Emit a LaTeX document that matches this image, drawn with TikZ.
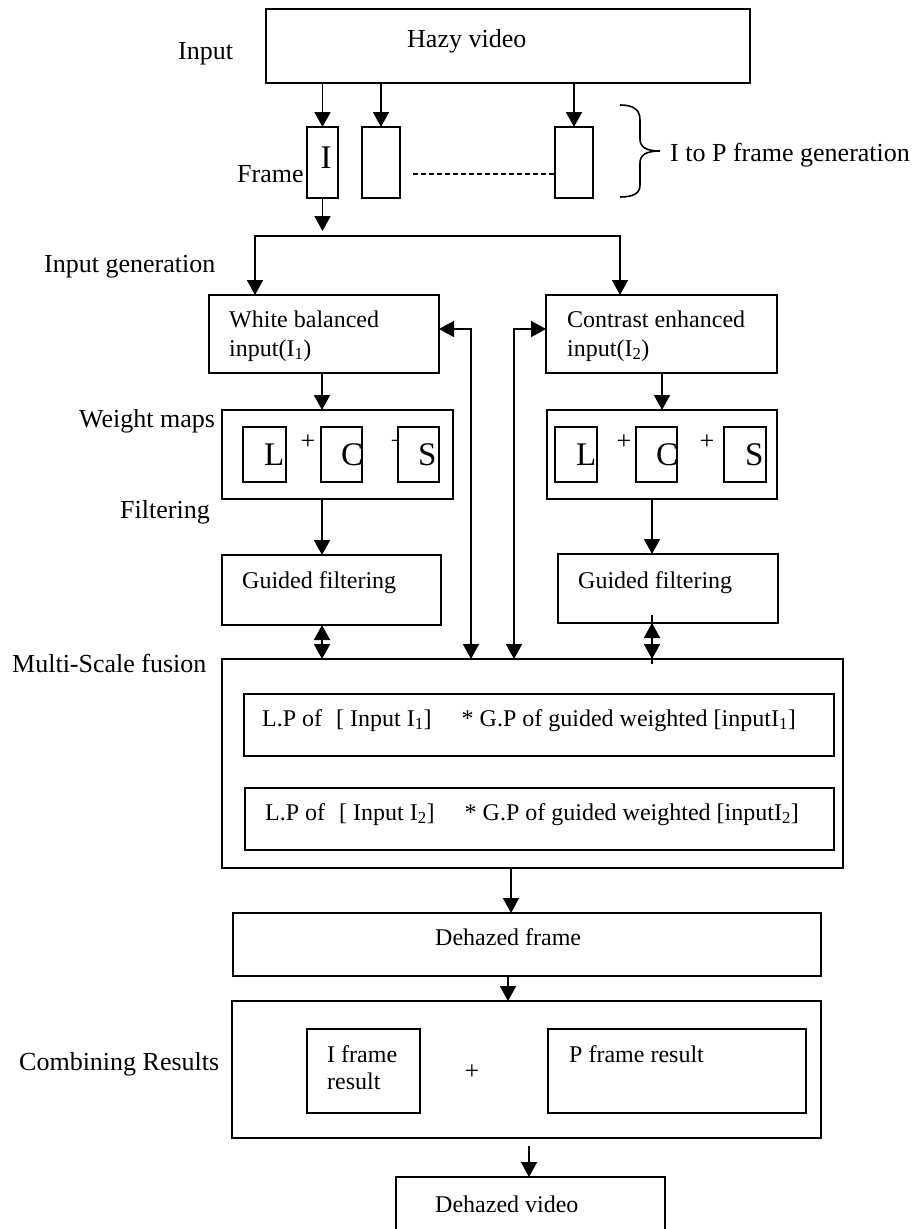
\documentclass[tikz,border=0pt]{standalone}
\usepackage{fontspec}
\setmainfont{Liberation Serif}
\usetikzlibrary{arrows.meta}
\begin{document}
\begin{tikzpicture}[x=1pt,y=-1pt,
  blk/.style={draw, line width=1.9pt, inner sep=0pt, outer sep=0pt, anchor=north west, fill=white},
  lab/.style={font=\fontsize{26}{30}\selectfont, inner sep=0pt, anchor=base west},
  txt/.style={font=\fontsize{24}{29}\selectfont, inner sep=0pt, anchor=base west},
  glyph/.style={font=\fontsize{33}{36}\selectfont, inner sep=0pt, anchor=base west},
  plussign/.style={font=\fontsize{26}{30}\selectfont, inner sep=0pt},
  conn/.style={line width=1.9pt},
  arr/.style={conn, -{Triangle[length=15pt,width=16pt]}},
  dbl/.style={conn, {Triangle[length=15pt,width=16pt]}-{Triangle[length=15pt,width=16pt]}},
]
\useasboundingbox (0,0) rectangle (916,1229);
\clip (0,0) rectangle (916,1229);

% ---------- input video and frames ----------
\node[blk, minimum width=484pt, minimum height=74pt] (hazy) at (266,9) {};
\node[lab] (hazyt) at (407,47) {Hazy video};
\node[lab] (inlab) at (178,59) {Input};

\node[blk, minimum width=31pt, minimum height=71pt] (fI) at (307,127) {};
\node[blk, minimum width=38pt, minimum height=71pt] (fII) at (362,127) {};
\node[blk, minimum width=38pt, minimum height=71pt] (fN) at (555,127) {};
\node[glyph, anchor=base] (fIt) at (326,168) {I};
\node[lab] (framelab) at (237,182) {Frame};

\draw[arr] (fI.north |- hazy.south) -- (fI.north);
\draw[arr] (fII.north |- hazy.south) -- (fII.north);
\draw[arr] (fN.north |- hazy.south) -- (fN.north);

\coordinate (dsh) at (413,174);
\draw[line width=1.3pt, dash pattern=on 5pt off 3pt] (dsh) -- (dsh -| fN.west);

% brace over the frame row
\draw[line width=1.6pt] (620,105) .. controls (634,105) and (640,110) .. (640,120)
  -- (640,139) .. controls (640,147) and (646,151) .. (660,151)
  .. controls (646,151) and (640,155) .. (640,163)
  -- (640,185) .. controls (640,193) and (634,197) .. (620,197);
\node[lab] (ptlab) at (670,161) {I to P frame generation};

% ---------- input generation ----------
\node[lab] (genlab) at (44,272) {Input generation};
\node[blk, minimum width=230pt, minimum height=78pt] (wb) at (209,295) {};
\node[txt] (wbt1) at (229,327) {White balanced};
\node[txt] (wbt2) at (229,356) {input(I\textsubscript{1})};
\node[blk, minimum width=231pt, minimum height=78pt] (ce) at (546,295) {};
\node[txt] (cet1) at (567,327) {Contrast enhanced};
\node[txt] (cet2) at (567,356) {input(I\textsubscript{2})};

\coordinate (jl) at (255,236);
\coordinate (jr) at (620,236);
\draw[arr, shorten >=5pt] (fI.south) -- (fI.south |- jl);
\draw[dbl] (jl |- wb.north) -- (jl) -- (jr) -- (jr |- ce.north);

% ---------- weight maps ----------
\node[lab] (wmlab) at (79,427) {Weight maps};
\node[blk, minimum width=231pt, minimum height=89pt] (wm1) at (222,410) {};
\node[blk, minimum width=230pt, minimum height=89pt] (wm2) at (547,410) {};

\node[plussign] (p1) at (308,442) {+};
\node[plussign] (p2) at (398,442) {+};
\node[plussign] (p3) at (624,442) {+};
\node[plussign] (p4) at (707,442) {+};

\node[blk, minimum width=43pt, minimum height=55pt] (L1) at (243,427) {};
\node[blk, minimum width=41pt, minimum height=55pt] (C1) at (321,427) {};
\node[blk, minimum width=41pt, minimum height=55pt] (S1) at (398,427) {};
\node[blk, minimum width=42pt, minimum height=55pt] (L2) at (555,427) {};
\node[blk, minimum width=41pt, minimum height=55pt] (C2) at (636,427) {};
\node[blk, minimum width=42pt, minimum height=55pt] (S2) at (724,427) {};

\node[glyph] (L1t) at (264,465) {L};
\node[glyph] (C1t) at (341,465) {C};
\node[glyph] (S1t) at (418,465) {S};
\node[glyph] (L2t) at (576,465) {L};
\node[glyph] (C2t) at (656,465) {C};
\node[glyph] (S2t) at (745,465) {S};

% ---------- filtering ----------
\node[lab] (fillab) at (120,518) {Filtering};
\node[blk, minimum width=219pt, minimum height=70pt] (gf1) at (222,555) {};
\node[txt] (gf1t) at (242,588) {Guided filtering};
\node[blk, minimum width=220pt, minimum height=69pt] (gf2) at (558,554) {};
\node[txt] (gf2t) at (578,588) {Guided filtering};

% ---------- multi-scale fusion ----------
\node[lab] (msflab) at (12,672) {Multi-Scale fusion};
\node[blk, minimum width=621pt, minimum height=209pt] (msf) at (222,659) {};
\node[blk, minimum width=590pt, minimum height=62pt] (lp1) at (244,694) {};
\node[txt] (lp1t) at (262,726) {L.P of\hspace{14pt}[ Input I\textsubscript{1}]\hspace{30pt}* G.P of guided weighted [inputI\textsubscript{1}]};
\node[blk, minimum width=589pt, minimum height=62pt] (lp2) at (245,788) {};
\node[txt] (lp2t) at (265,820) {L.P of\hspace{14pt}[ Input I\textsubscript{2}]\hspace{30pt}* G.P of guided weighted [inputI\textsubscript{2}]};

% column positions of the vertical connectors
\coordinate (cl) at (322,0);
\coordinate (cr) at (652,0);
\coordinate (crt) at (662,0);
\coordinate (lx) at (471,0);
\coordinate (rx) at (514,0);

\draw[arr] (cl |- wb.south) -- (cl |- wm1.north);
\draw[arr] (cl |- wm1.south) -- (cl |- gf1.north);
\draw[dbl] (cl |- gf1.south) -- (cl |- msf.north);
\draw[arr] (crt |- ce.south) -- (crt |- wm2.north);
\draw[arr] (cr |- wm2.south) -- (cr |- gf2.north);
\draw[conn, shorten <=-8pt, shorten >=-5pt] (cr |- gf2.south) -- (cr |- msf.north);
\draw[dbl] (cr |- gf2.south) -- (cr |- msf.north);
\draw[dbl] ([yshift=5pt]wb.east) -| (lx |- msf.north);
\draw[dbl] ([yshift=5pt]ce.west) -| (rx |- msf.north);

% ---------- output ----------
\node[blk, minimum width=588pt, minimum height=63pt] (dhf) at (233,913) {};
\node[txt] (dhft) at (435,945) {Dehazed frame};

\node[lab] (comblab) at (19,1070) {Combining Results};
\node[blk, minimum width=589pt, minimum height=137pt] (comb) at (232,1001) {};
\node[blk, minimum width=113pt, minimum height=84pt] (ifr) at (307,1029) {};
\node[txt] (ifrt1) at (327,1062) {I frame};
\node[txt] (ifrt2) at (327,1089) {result};
\node[plussign] (p5) at (472,1072) {+};
\node[blk, minimum width=258pt, minimum height=84pt] (pfr) at (548,1029) {};
\node[txt] (pfrt) at (569,1062) {P frame result};

\node[blk, minimum width=269pt, minimum height=70pt] (dhv) at (396,1177) {};
\node[txt] (dhvt) at (435,1212) {Dehazed video};

\coordinate (cm) at (511,0);
\coordinate (cd) at (508,0);
\coordinate (cv) at (529,1146);
\draw[arr] (cm |- msf.south) -- (cm |- dhf.north);
\draw[arr] (cd |- dhf.south) -- (cd |- comb.north);
\draw[arr] (cv) -- (cv |- dhv.north);
\end{tikzpicture}
\end{document}
